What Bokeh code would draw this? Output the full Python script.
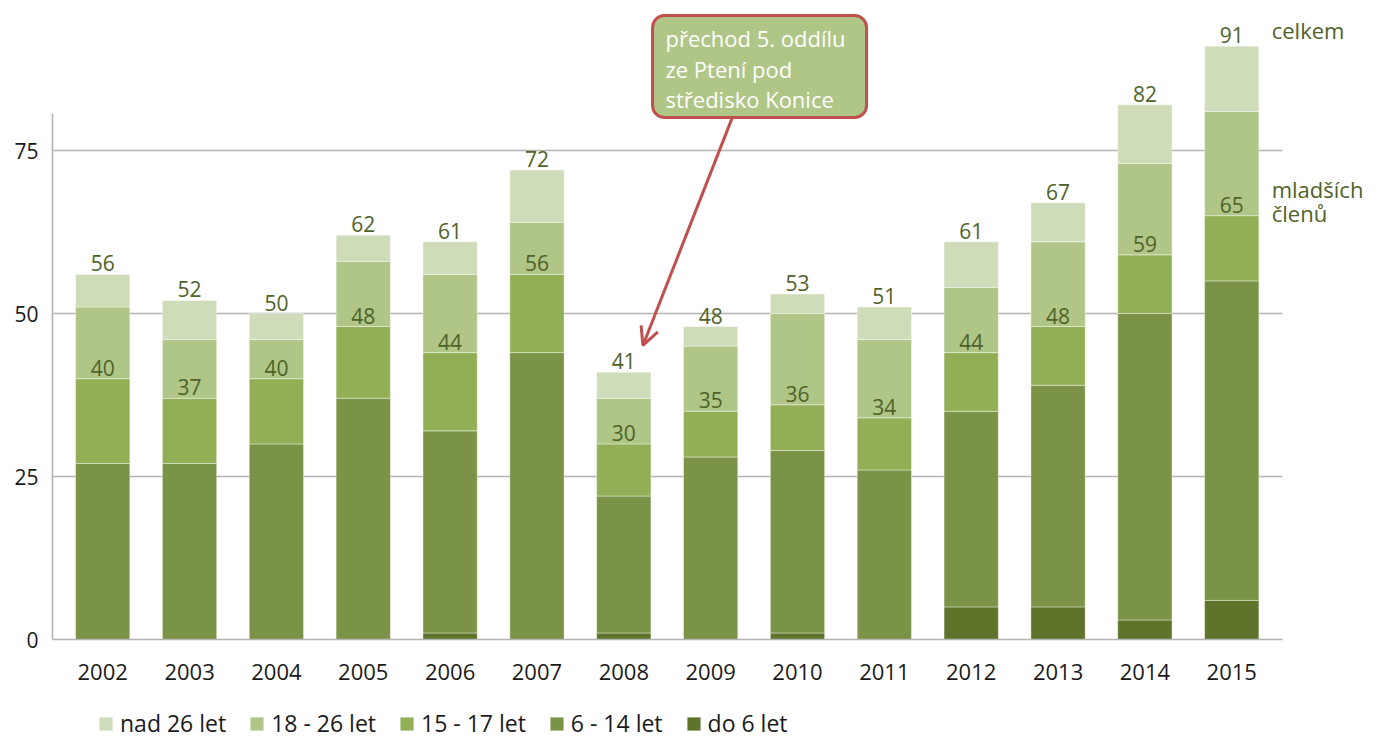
from bokeh.plotting import figure
from bokeh.models import (ColumnDataSource, FixedTicker, Legend, LegendItem,
                          BoxAnnotation, Arrow, OpenHead, Range1d)
from bokeh.core.properties import value
from bokeh.embed import file_html
from bokeh.resources import INLINE

# ---------------- data ----------------
years = [2002, 2003, 2004, 2005, 2006, 2007, 2008, 2009, 2010, 2011, 2012, 2013, 2014, 2015]
do_6 = [0, 0, 0, 0, 1, 0, 1, 0, 1, 0, 5, 5, 3, 6]
od_6_14 = [27, 27, 30, 37, 31, 44, 21, 28, 28, 26, 30, 34, 47, 49]
od_15_17 = [13, 10, 10, 11, 12, 12, 8, 7, 7, 8, 9, 9, 9, 10]
od_18_26 = [11, 9, 6, 10, 12, 8, 7, 10, 14, 12, 10, 13, 14, 16]
nad_26 = [5, 6, 4, 4, 5, 8, 4, 3, 3, 5, 7, 6, 9, 10]

series_names = ["do 6 let", "6 - 14 let", "15 - 17 let", "18 - 26 let", "nad 26 let"]
series_keys = ["do6", "s614", "s1517", "s1826", "nad26"]
colors = ["#5E742B", "#7B9346", "#93AF55", "#AFC687", "#CFDCBA"]

mladsi = [a + b + c for a, b, c in zip(do_6, od_6_14, od_15_17)]
celkem = [m + d + e for m, d, e in zip(mladsi, od_18_26, nad_26)]

y_ticks = [0, 25, 50, 75]
note_lines = ["přechod 5. oddílu", "ze Ptení pod", "středisko Konice"]

# ---------------- layout ----------------
W, H = 1373, 743
PX_X = 86.85                 # pixels per year
PX_Y = 6.52                  # pixels per member
AXIS_LEFT_PX, AXIS_BOTTOM_PX = 52, 639
x_start = years[0] - 102.2 / PX_X
x_end = x_start + W / PX_X
y_start = -(H - AXIS_BOTTOM_PX) / PX_Y
y_end = AXIS_BOTTOM_PX / PX_Y
x_axis_start = years[0] - (102.2 - AXIS_LEFT_PX) / PX_X
x_axis_end = x_axis_start + 1230 / PX_X
y_axis_end = 80.7

FONT = value("Open Sans")
TXT = "#4F6228"
GRID = "#B4B4B4"
RED = "#C0504D"

src = ColumnDataSource(dict(
    year=years, do6=do_6, s614=od_6_14, s1517=od_15_17, s1826=od_18_26, nad26=nad_26,
    mladsi=mladsi, celkem=celkem,
    mladsi_s=[str(v) for v in mladsi], celkem_s=[str(v) for v in celkem],
))

p = figure(width=W, height=H, x_range=Range1d(x_start, x_end), y_range=Range1d(y_start, y_end),
           output_backend="svg", toolbar_location=None,
           min_border_left=0, min_border_right=0, min_border_top=0, min_border_bottom=0)
p.outline_line_color = None
p.xgrid.visible = False
p.ygrid.visible = False
p.background_fill_color = "white"

# gridlines (stop at plot area's right edge)
gy = y_ticks[1:]
p.segment(x0=[x_axis_start] * len(gy), x1=[x_axis_end] * len(gy), y0=gy, y1=gy,
          line_color=GRID, line_width=1.6)

# stacked bars
rs = p.vbar_stack(series_keys, x="year", width=0.625, source=src,
                  fill_color=colors, line_color="white", line_alpha=0.4, line_width=1)

# value labels
for col in ("celkem", "mladsi"):
    p.text(x="year", y=col, text=col + "_s", source=src, text_font=FONT,
           text_font_size="21px", text_color=TXT, text_align="center",
           text_baseline="alphabetic", y_offset=-11)

# side labels next to the last bar
p.text(x=[years[-1] + 0.46], y=[celkem[-1]], text=["celkem"], text_font=FONT,
       text_font_size="22px", text_color=TXT, text_align="left",
       text_baseline="alphabetic", y_offset=-16)
p.text(x=[years[-1] + 0.46, years[-1] + 0.46], y=[mladsi[-1], mladsi[-1]],
       text=["mladších", "členů"], text_font=FONT,
       text_font_size="22px", text_color=TXT, text_align="left",
       text_baseline="alphabetic", y_offset=[-27, -3])

# axes drawn inside the frame at fixed positions
p.yaxis.fixed_location = x_axis_start
p.yaxis.ticker = FixedTicker(ticks=y_ticks)
p.yaxis.bounds = (0, y_axis_end)
p.yaxis.axis_line_color = GRID
p.yaxis.axis_line_width = 1.6
p.yaxis.major_tick_out = 0
p.yaxis.major_tick_in = 0
p.yaxis.minor_tick_line_color = None
p.yaxis.major_label_text_font = "Open Sans"
p.yaxis.major_label_text_font_size = "21px"
p.yaxis.major_label_text_color = "#1A1A1A"
p.yaxis.major_label_standoff = 14

p.xaxis.fixed_location = 0
p.xaxis.ticker = FixedTicker(ticks=years)
p.xaxis.bounds = (x_axis_start, x_axis_end)
p.xaxis.axis_line_color = GRID
p.xaxis.axis_line_width = 1.6
p.xaxis.major_tick_out = 0
p.xaxis.major_tick_in = 0
p.xaxis.minor_tick_line_color = None
p.xaxis.major_label_text_font = "Open Sans"
p.xaxis.major_label_text_font_size = "22px"
p.xaxis.major_label_text_color = "#1A1A1A"
p.xaxis.major_label_standoff = 24

# legend (reverse order of stacking)
items = [LegendItem(label=series_names[i], renderers=[rs[i]]) for i in range(4, -1, -1)]
legend = Legend(items=items, orientation="horizontal", location=(97, 4),
                label_text_font="Open Sans", label_text_font_size="23px",
                label_text_color="#1A1A1A", label_height=24,
                glyph_width=17, glyph_height=17, label_standoff=6, spacing=22,
                padding=0, margin=0, border_line_color=None, background_fill_alpha=0)
p.add_layout(legend)

# callout box with arrow
box = BoxAnnotation(left=2008.331, right=2010.795, bottom=80.06, top=95.7,
                    fill_color="#AFC687", fill_alpha=1.0,
                    line_color=RED, line_width=3, line_alpha=1.0,
                    border_radius=12, level="underlay")
p.add_layout(box)
p.text(x=[2008.48] * 3, y=[92.2, 87.5, 82.9], text=note_lines, text_font=FONT,
       text_font_size="22px", text_color="white", text_align="left",
       text_baseline="alphabetic")
p.add_layout(Arrow(x_start=2009.248, y_start=80.0, x_end=2008.22, y_end=45.1,
                   line_color=RED, line_width=3,
                   end=OpenHead(size=18, line_color=RED, line_width=3)))

open("out.html", "w").write(file_html(p, INLINE))
